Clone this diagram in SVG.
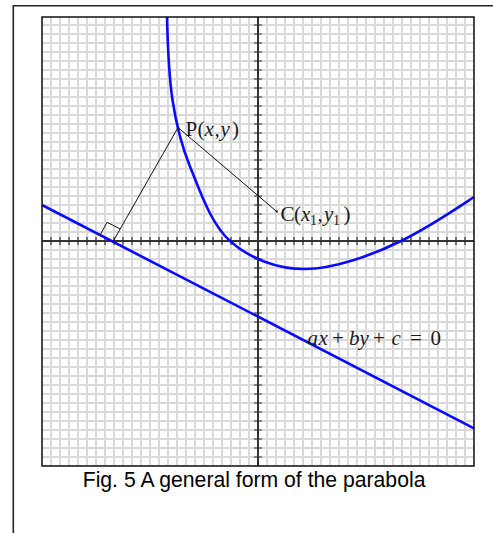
<svg xmlns="http://www.w3.org/2000/svg" width="493" height="533" viewBox="0 0 493 533">
<defs>
<pattern id="grid" x="38" y="12" width="9" height="9" patternUnits="userSpaceOnUse">
<path d="M4,0V9M0,4H9" stroke="#d9d9d9" stroke-width="2" fill="none"/>
</pattern>
<style>
.frame{fill:none;stroke:#222;stroke-width:1.6}
.plot{fill:none;stroke:#111;stroke-width:1.5}
.axis{stroke:#333;stroke-width:2;fill:none}
.tick{stroke:#333;stroke-width:8;stroke-dasharray:1.2 7.8;fill:none}
.curve{fill:none;stroke:#0a0aff;stroke-width:2.6;stroke-linecap:butt}
.thin{fill:none;stroke:#111;stroke-width:1}
.math{font-family:"Liberation Serif","Times New Roman",serif;font-size:21px;fill:#1a1a1a}
.it{font-style:italic}
.sub{font-size:14px}
.cap{font-family:"Liberation Sans",Arial,sans-serif;font-size:21.2px;fill:#000}
</style>
</defs>
<rect width="493" height="533" fill="#fff"/>
<path class="frame" d="M13.3,540V5.8H500"/>
<g id="plot-area">
<rect x="42" y="17" width="432" height="449" fill="url(#grid)"/>
<path class="axis" d="M42,241H474M258,17V466"/>
<path class="tick" d="M50.4,241H465.6"/>
<path class="tick" d="M258,24.4V457.6"/>
</g>
<g id="directrix">
<path class="curve" d="M42,205L474,428.3"/>
</g>
<g id="parabola">
<path class="curve" d="M167,17C167.7,44.7 168.7,75.1 172.5,100C176.3,124.9 180.4,143 190,166.5C199.6,190 210.8,223.9 230,241C249.2,258.1 276.6,269 305,269C333.5,269 372.8,255 401,241C429.2,227 449.7,213 474,197"/>
</g>
<g id="connectors">
<path class="thin" d="M178,127.5L276.7,211.5"/>
<path class="thin" d="M178,127.5L113,241.6"/>
<path class="thin" d="M100.1,235L107.1,222.3L120,228.9"/>
<rect x="275.7" y="210.5" width="2" height="2" fill="#111"/>
</g>
<rect class="plot" x="42" y="17" width="432" height="449"/>
<g id="label-P">
<text class="math" y="135.5"><tspan x="185.5">P</tspan><tspan x="197.5">(</tspan><tspan x="204.5" class="it">x</tspan><tspan x="214.5">,</tspan><tspan x="220.5" class="it">y</tspan><tspan x="232">)</tspan></text>
</g>
<g id="label-C">
<text class="math" y="220.5"><tspan x="280.5">C</tspan><tspan x="294">(</tspan><tspan x="301" class="it">x</tspan><tspan x="310" y="225" class="sub">1</tspan><tspan x="317.5" y="220.5">,</tspan><tspan x="324" class="it">y</tspan><tspan x="333" y="225" class="sub">1</tspan><tspan x="343.5" y="220.5">)</tspan></text>
</g>
<g id="label-line">
<text class="math" y="345"><tspan x="307.5" class="it">a</tspan><tspan x="318.5" class="it">x</tspan><tspan x="332.1">+</tspan><tspan x="349" class="it">b</tspan><tspan x="359.5" class="it">y</tspan><tspan x="373.1">+</tspan><tspan x="391.5" class="it">c</tspan><tspan x="410">=</tspan><tspan x="430.5">0</tspan></text>
</g>
<g id="caption">
<text class="cap" x="82.7" y="486.5">Fig. 5 A general form of the parabola</text>
</g>
</svg>
